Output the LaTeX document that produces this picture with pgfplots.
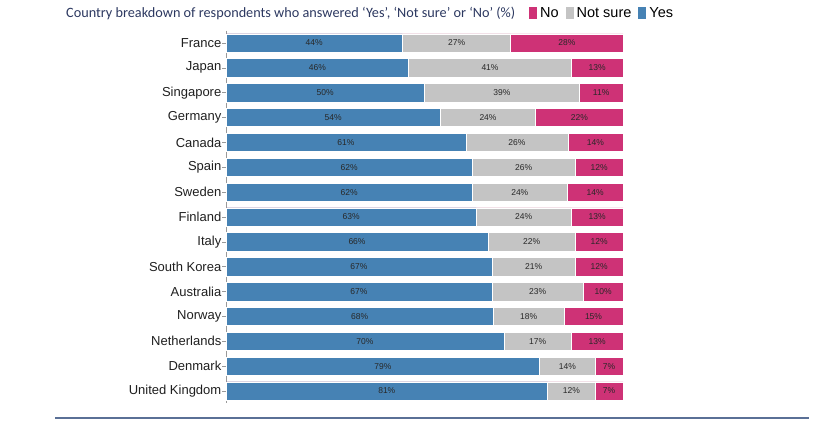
\documentclass[border=0pt]{standalone}
\usepackage{fontspec}
\setmainfont{Liberation Sans}
\newfontfamily\titlefont{Carlito}
\usepackage{pgfplots}
\pgfplotsset{compat=1.18}
\usepackage{pgfplotstable}
\definecolor{cyes}{RGB}{70,130,180}
\definecolor{cns}{RGB}{196,196,196}
\definecolor{cno}{RGB}{206,50,118}
\definecolor{ctitle}{RGB}{44,56,96}
\definecolor{cline}{RGB}{90,112,150}
\definecolor{clab}{RGB}{40,40,40}

\pgfplotstableread{
idx yes ns no
1 44 27 28
2 46 41 13
3 50 39 11
4 54 24 22
5 61 26 14
6 62 26 12
7 62 24 14
8 63 24 13
9 66 22 12
10 67 21 12
11 67 23 10
12 68 18 15
13 70 17 13
14 79 14 7
15 81 12 7
}\data

\newcommand{\tot}{(\thisrow{yes}+\thisrow{ns}+\thisrow{no})}

\begin{document}
\begin{tikzpicture}
\path[use as bounding box] (0,0) rectangle (836bp,-426bp);
\node[anchor=west, inner sep=0pt, text=ctitle, font=\titlefont\fontsize{14.25bp}{16bp}\selectfont] at (66bp,-13bp)
  {Country breakdown of respondents who answered ‘Yes’, ‘Not sure’ or ‘No’ (\%)};
\begin{axis}[
  at={(226bp,-30.57bp)}, anchor=north west,
  scale only axis, width=397bp, height=372.9bp,
  xmin=0, xmax=100, ymin=0.5, ymax=15.5, y dir=reverse,
  axis x line=none, axis y line*=left,
  y axis line style={draw=black!40, line width=0.6bp},
  ytick={1,...,15},
  yticklabels={France,Japan,Singapore,Germany,Canada,Spain,Sweden,Finland,Italy,South Korea,Australia,Norway,Netherlands,Denmark,United Kingdom},
  ytick style={draw=black!40, line width=0.6bp},
  major tick length=4bp, tick align=outside,
  yticklabel style={font=\fontsize{13bp}{15bp}\selectfont, text=black!88, inner sep=0.5bp},
  clip=false,
  legend columns=3,
  legend style={at={(0.763,1.0472)}, anchor=west, draw=none, fill=none, inner sep=0pt,
    font=\fontsize{14.5bp}{16bp}\selectfont,
    /tikz/every odd column/.append style={column sep=1.5bp},
    /tikz/every even column/.append style={column sep=5bp}},
  nlab/.style={only marks, mark=*, mark size=0pt, mark options={draw=none,fill=none},
    nodes near coords={\pgfmathprintnumber[assume math mode=true]{\pgfplotspointmeta}\%},
    every node near coord/.append style={anchor=center, font=\fontsize{8.5bp}{10bp}\selectfont, text=clab},
    forget plot},
]
\addplot[xbar, bar shift=0pt, bar width=18.3bp, fill=cno, draw=white, line width=0.5bp,
  legend image code/.code={\fill[cno] (0bp,-5.5bp) rectangle (7bp,5.5bp);}]
  table[x expr={100*\tot/\tot}, y=idx]{\data};
\addlegendentry{No}
\addplot[xbar, bar shift=0pt, bar width=18.3bp, fill=cns, draw=white, line width=0.5bp,
  legend image code/.code={\fill[cns] (0bp,-5.5bp) rectangle (7bp,5.5bp);}]
  table[x expr={100*(\thisrow{yes}+\thisrow{ns})/\tot}, y=idx]{\data};
\addlegendentry{Not sure}
\addplot[xbar, bar shift=0pt, bar width=18.3bp, fill=cyes, draw=white, line width=0.5bp,
  legend image code/.code={\fill[cyes] (0bp,-5.5bp) rectangle (7bp,5.5bp);}]
  table[x expr={100*\thisrow{yes}/\tot}, y=idx]{\data};
\addlegendentry{Yes}
% labels
\addplot[nlab, point meta=\thisrow{yes}]
  table[x expr={50*\thisrow{yes}/\tot}, y=idx]{\data};
\addplot[nlab, point meta=\thisrow{ns}]
  table[x expr={100*(\thisrow{yes}+0.5*\thisrow{ns})/\tot}, y=idx]{\data};
\addplot[nlab, point meta=\thisrow{no}]
  table[x expr={100*(\thisrow{yes}+\thisrow{ns}+0.5*\thisrow{no})/\tot}, y=idx]{\data};
\end{axis}
\draw[cline, line width=1.5bp] (55bp,-418bp) -- (809bp,-418bp);
\end{tikzpicture}
\end{document}
